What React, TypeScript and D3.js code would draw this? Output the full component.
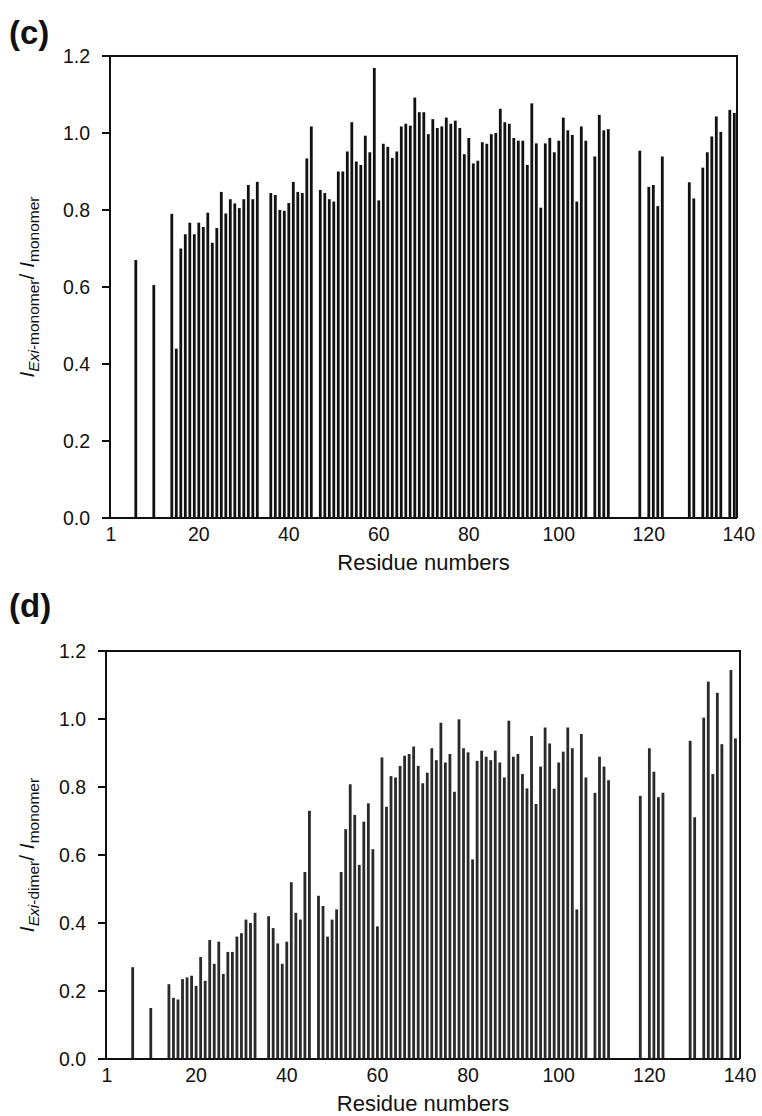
import React from 'react';
import * as d3 from 'd3';

// residues that carry a bar (same set in both panels)
const residues = [
  6, 10,
  14, 15, 16, 17, 18, 19, 20, 21, 22, 23, 24, 25, 26, 27, 28, 29, 30, 31, 32, 33,
  36, 37, 38, 39, 40, 41, 42, 43, 44, 45,
  47, 48, 49, 50, 51, 52, 53, 54, 55, 56,
  57, 58, 59, 60, 61, 62, 63, 64, 65, 66,
  67, 68, 69, 70, 71, 72, 73, 74, 75, 76,
  77, 78, 79, 80, 81, 82, 83, 84, 85, 86,
  87, 88, 89, 90, 91, 92, 93, 94, 95, 96,
  97, 98, 99, 100, 101, 102, 103, 104, 105, 106,
  108, 109, 110, 111,
  118,
  120, 121, 122, 123,
  129, 130,
  132, 133, 134, 135, 136,
  138, 139,
];

// (c) I(Exi-monomer) / I(monomer)
const monomerRatio = [
  0.67, 0.605,
  0.79, 0.44, 0.70, 0.737, 0.767, 0.737, 0.767, 0.756, 0.793, 0.715, 0.753, 0.847, 0.791, 0.828, 0.817, 0.805, 0.828, 0.865, 0.828, 0.873,
  0.844, 0.839, 0.80, 0.798, 0.818, 0.873, 0.847, 0.844, 0.934, 1.017,
  0.852, 0.844, 0.828, 0.822, 0.90, 0.90, 0.952, 1.028, 0.926, 0.917,
  0.993, 0.95, 1.169, 0.825, 0.972, 0.964, 0.935, 0.952, 1.017, 1.024,
  1.019, 1.092, 1.054, 1.054, 0.997, 1.036, 1.013, 1.017, 1.04, 1.024,
  1.032, 1.013, 0.945, 0.987, 0.921, 0.928, 0.976, 0.972, 0.997, 1.0,
  1.063, 1.028, 1.024, 0.987, 0.98, 0.98, 0.917, 1.077, 0.973, 0.806,
  0.973, 0.987, 0.95, 0.98, 1.04, 1.007, 0.995, 0.822, 1.017, 0.98,
  0.939, 1.047, 1.007, 1.01,
  0.954,
  0.86, 0.865, 0.81, 0.939,
  0.872, 0.83,
  0.91, 0.95, 0.991, 1.043, 1.003,
  1.06, 1.052,
];

// (d) I(Exi-dimer) / I(monomer)
const dimerRatio = [
  0.27, 0.15,
  0.22, 0.18, 0.175, 0.235, 0.24, 0.245, 0.215, 0.30, 0.23, 0.35, 0.28, 0.345, 0.25, 0.315, 0.315, 0.36, 0.37, 0.41, 0.40, 0.43,
  0.42, 0.385, 0.34, 0.28, 0.345, 0.52, 0.43, 0.41, 0.55, 0.73,
  0.48, 0.45, 0.36, 0.41, 0.44, 0.55, 0.676, 0.808, 0.718, 0.571,
  0.698, 0.752, 0.617, 0.39, 0.887, 0.742, 0.832, 0.828, 0.862, 0.892,
  0.897, 0.919, 0.862, 0.811, 0.842, 0.914, 0.879, 0.989, 0.872, 0.897,
  0.786, 0.999, 0.914, 0.902, 0.587, 0.877, 0.907, 0.889, 0.879, 0.907,
  0.872, 0.828, 0.995, 0.889, 0.897, 0.838, 0.796, 0.95, 0.75, 0.86,
  0.975, 0.928, 0.795, 0.872, 0.904, 0.975, 0.914, 0.44, 0.956, 0.828,
  0.783, 0.889, 0.86, 0.82,
  0.774,
  0.914, 0.845, 0.77, 0.783,
  0.936, 0.711,
  1.004, 1.11, 0.838, 1.077, 0.926,
  1.144, 0.943,
];

const xTicks = [1, 20, 40, 60, 80, 100, 120, 140];
const yTicks = [0, 0.2, 0.4, 0.6, 0.8, 1.0, 1.2];

const FONT = '"Liberation Sans", Arial, Helvetica, sans-serif';

const Panel = ({ tag, tagY, values, sub, frame, barFill }) => {
  const { top, bottom, left, right, x1, x140 } = frame;
  const x = d3.scaleLinear().domain([1, 140]).range([x1, x140]);
  const y = d3.scaleLinear().domain([0, 1.2]).range([bottom, top]);
  const fmt = d3.format('.1f');
  const mid = (top + bottom) / 2;

  return (
    <g fontFamily={FONT} fill="#111">
      <text x={9} y={tagY} fontSize={33} fontWeight="bold">{tag}</text>

      {residues.map((r, i) => (
        <rect
          key={r}
          x={x(r) - 1.4}
          y={y(values[i])}
          width={2.8}
          height={y(0) - y(values[i])}
          fill={barFill}
        />
      ))}

      {/* frame */}
      <path
        d={`M${left},${bottom}V${top}H${right}V${bottom}`}
        fill="none"
        stroke="#111"
        strokeWidth={2}
      />
      <line x1={left - 8} x2={right} y1={bottom} y2={bottom} stroke="#111" strokeWidth={2} />

      {yTicks.map(t => (
        <g key={t}>
          <line x1={left - 8} x2={left} y1={y(t)} y2={y(t)} stroke="#111" strokeWidth={2} />
          <text x={left - 20} y={y(t) + 7} fontSize={19.5} textAnchor="end">{fmt(t)}</text>
        </g>
      ))}

      {xTicks.map(t => (
        <text key={t} x={t === 1 ? left + 1 : x(t)} y={bottom + 23} fontSize={19.5} textAnchor="middle">{t}</text>
      ))}

      <text x={(left + right) / 2} y={bottom + 52} fontSize={22} textAnchor="middle">Residue numbers</text>

      <text transform={`translate(34,${mid}) rotate(-90)`} fontSize={21} textAnchor="middle">
        <tspan fontStyle="italic">I</tspan>
        <tspan fontSize={15.5} dy={5}><tspan fontStyle="italic">Exi</tspan>{sub}</tspan>
        <tspan dy={-5}>/ </tspan>
        <tspan fontStyle="italic">I</tspan>
        <tspan fontSize={15.5} dy={5}>monomer</tspan>
      </text>
    </g>
  );
};

export default function App() {
  return (
    <svg
      width={762}
      height={1116}
      style={{ position: 'absolute', left: 0, top: 0, background: '#fff' }}
    >
      <rect width={762} height={1116} fill="#fff" />
      <Panel
        tag="(c)"
        tagY={44}
        values={monomerRatio}
        sub="-monomer"
        barFill="#111"
        frame={{ top: 56, bottom: 518, left: 110, right: 737, x1: 113.3, x140: 738.8 }}
      />
      <Panel
        tag="(d)"
        tagY={617}
        values={dimerRatio}
        sub="-dimer"
        barFill="#2a2a2a"
        frame={{ top: 651, bottom: 1059, left: 106, right: 740, x1: 110, x140: 740 }}
      />
    </svg>
  );
}
